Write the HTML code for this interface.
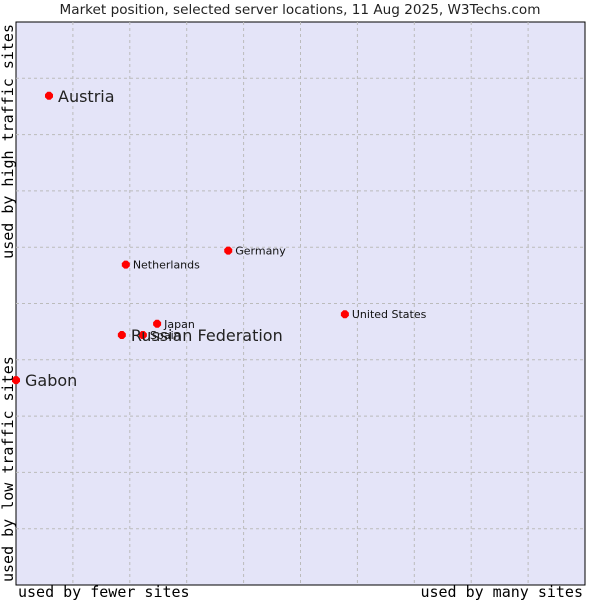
<!DOCTYPE html>
<html><head><meta charset="utf-8"><style>
body{margin:0;background:#fff;width:600px;height:600px;overflow:hidden}
svg text{font-family:"DejaVu Sans","Liberation Sans",sans-serif}
.mono{font-family:"DejaVu Sans Mono","Liberation Mono",monospace !important}
</style></head><body>
<svg id="c" width="600" height="600">
<text x="300" y="14" text-anchor="middle" font-size="13.6" fill="#222">Market position, selected server locations, 11 Aug 2025, W3Techs.com</text>
<rect x="16" y="22" width="569" height="563" fill="#e4e4f8" stroke="#000" stroke-width="1"/>
<g id="grid"></g>
<g id="pts"></g>
<text class="mono" x="18" y="597" font-size="15" fill="#000">used by fewer sites</text>
<text class="mono" x="583" y="597" text-anchor="end" font-size="15" fill="#000">used by many sites</text>
<text class="mono" transform="translate(13,24) rotate(-90)" text-anchor="end" font-size="15" fill="#000">used by high traffic sites</text>
<text class="mono" transform="translate(13,582) rotate(-90)" font-size="15" fill="#000">used by low traffic sites</text>
</svg>
<script>
const names=["Austria","Netherlands","Germany","United States","Japan","Spain","Russian Federation","Gabon"];
const xVals=[5.8,19.3,37.3,57.8,24.8,22.3,18.6,0];
const yVals=[86.9,56.9,59.4,48.1,46.4,44.4,44.4,36.4];
const big=[true,false,false,false,false,false,true,true];
const L=16,R=585,T=22,B=585;
const sx=v=>L+v/100*(R-L), sy=v=>B-v/100*(B-T);
const ns="http://www.w3.org/2000/svg";
const g=document.getElementById('grid');
for(let i=1;i<10;i++){
 const l=document.createElementNS(ns,'line');
 
 
 l.setAttribute('x1',sx(i*10));l.setAttribute('x2',sx(i*10));l.setAttribute('y1',T);l.setAttribute('y2',B);
 l.setAttribute('stroke','#bbb');l.setAttribute('stroke-dasharray','3,3');g.appendChild(l);
 const h=document.createElementNS(ns,'line');
 
 
 h.setAttribute('y1',sy(i*10));h.setAttribute('y2',sy(i*10));h.setAttribute('x1',L);h.setAttribute('x2',R);
 h.setAttribute('stroke','#bbb');h.setAttribute('stroke-dasharray','3,3');g.appendChild(h);
}
const p=document.getElementById('pts');
names.forEach((n,i)=>{
 const x=sx(xVals[i]),y=sy(yVals[i]);
 const d=document.createElementNS(ns,'path');
 
 
 d.setAttribute('d',`M${x-4},${y-1.5}L${x-1.5},${y-4}L${x+1.5},${y-4}L${x+4},${y-1.5}L${x+4},${y+1.5}L${x+1.5},${y+4}L${x-1.5},${y+4}L${x-4},${y+1.5}Z`);
 d.setAttribute('fill','#f00');p.appendChild(d);
 const t=document.createElementNS(ns,'text');
 
 
 t.setAttribute('x',x+(big[i]?9:7));t.setAttribute('y',y+(big[i]?6:4));
 t.setAttribute('font-size',big[i]?16:11);t.setAttribute('fill',big[i]?'#222':'#111');
 t.textContent=n;p.appendChild(t);
});
</script>
</body></html>
